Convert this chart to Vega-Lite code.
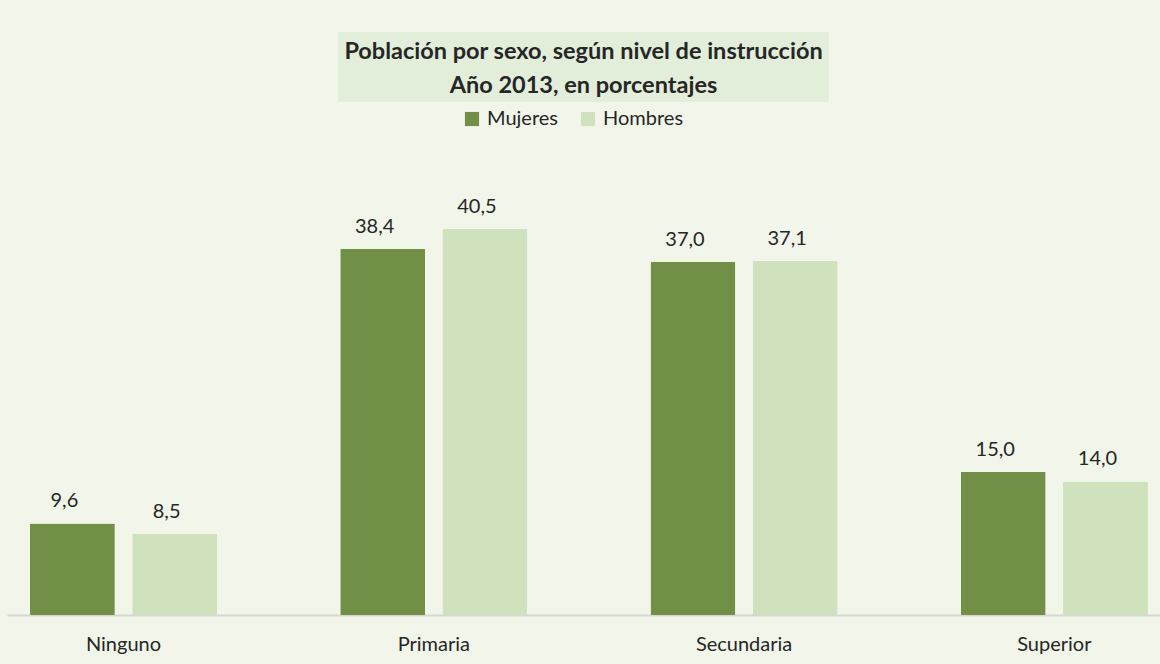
{
  "$schema": "https://vega.github.io/schema/vega-lite/v6.json",
  "background": "#F2F6EA",
  "padding": {"left": 7, "top": 32, "right": 0, "bottom": 10},
  "config": {
    "font": "Lato",
    "view": {"stroke": null},
    "locale": {"number": {"decimal": ",", "thousands": ".", "grouping": [3], "currency": ["", " €"]}},
    "concat": {"spacing": 36}
  },
  "center": true,
  "vconcat": [
    {
      "width": 491,
      "height": 70,
      "view": {"fill": "#E2EED9", "stroke": null},
      "data": {"values": [
        {"line": 1, "text": "Población por sexo, según nivel de instrucción"},
        {"line": 2, "text": "Año 2013, en porcentajes"}
      ]},
      "mark": {"type": "text", "fontWeight": "bold", "fontSize": 23.5, "color": "#262626", "baseline": "middle", "dy": 2},
      "encoding": {
        "y": {"field": "line", "type": "ordinal", "axis": null, "scale": {"type": "point", "padding": 0.56}},
        "text": {"field": "text"}
      }
    },
    {
      "width": 1153,
      "height": 477,
      "data": {"values": [
        {"nivel": "Ninguno", "sexo": "Mujeres", "valor": 9.6},
        {"nivel": "Ninguno", "sexo": "Hombres", "valor": 8.5},
        {"nivel": "Primaria", "sexo": "Mujeres", "valor": 38.4},
        {"nivel": "Primaria", "sexo": "Hombres", "valor": 40.5},
        {"nivel": "Secundaria", "sexo": "Mujeres", "valor": 37.0},
        {"nivel": "Secundaria", "sexo": "Hombres", "valor": 37.1},
        {"nivel": "Superior", "sexo": "Mujeres", "valor": 15.0},
        {"nivel": "Superior", "sexo": "Hombres", "valor": 14.0}
      ]},
      "encoding": {
        "x": {
          "field": "nivel", "type": "nominal", "sort": null,
          "scale": {"paddingInner": 0.397, "paddingOuter": 0.0565, "align": 0.655},
          "axis": {"title": null, "labelAngle": 0, "ticks": false, "domainColor": "#D5D7D0", "domainWidth": 2, "labelFontSize": 20, "labelColor": "#262626", "labelPadding": 19}
        },
        "xOffset": {"field": "sexo", "type": "nominal", "sort": ["Mujeres", "Hombres"], "scale": {"paddingInner": 0.17, "paddingOuter": 0}},
        "y": {"field": "valor", "type": "quantitative", "scale": {"domain": [0, 50]}, "axis": null}
      },
      "layer": [
        {
          "mark": {"type": "bar", "cornerRadius": 1},
          "encoding": {
            "color": {
              "field": "sexo", "type": "nominal", "sort": ["Mujeres", "Hombres"],
              "scale": {"domain": ["Mujeres", "Hombres"], "range": ["#718F47", "#CFE2BD"]},
              "legend": {"title": null, "orient": "none", "legendX": 455, "legendY": 77, "direction": "horizontal", "symbolType": "square", "symbolSize": 200, "symbolStrokeWidth": 0, "labelFontSize": 20, "labelColor": "#262626", "labelOffset": 5, "columnPadding": 20}
            }
          }
        },
        {
          "mark": {"type": "text", "fontSize": 20, "color": "#262626", "baseline": "middle", "dy": -22, "dx": -8},
          "encoding": {"text": {"field": "valor", "type": "quantitative", "format": ".1f"}}
        }
      ]
    }
  ]
}
